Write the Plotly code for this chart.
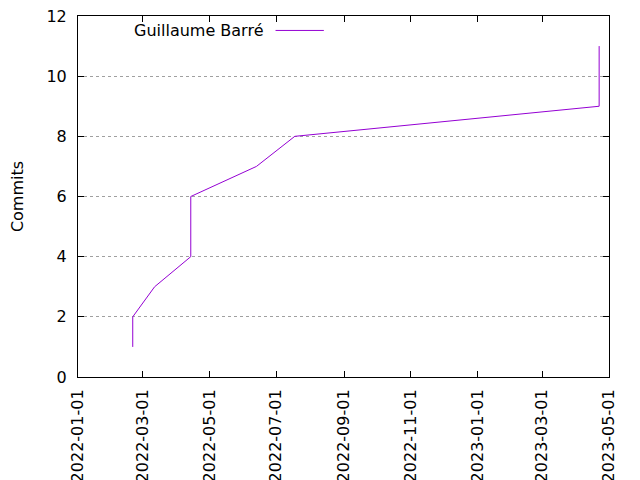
import plotly.graph_objects as go

author = "Guillaume Barré"
dates = ["2022-02-20", "2022-02-20", "2022-03-12", "2022-04-14", "2022-04-14",
         "2022-06-13", "2022-07-18", "2023-04-22", "2023-04-22"]
commits = [1, 2, 3, 4, 6, 7, 8, 9, 11]
tick_dates = ["2022-01-01", "2022-03-01", "2022-05-01", "2022-07-01", "2022-09-01",
              "2022-11-01", "2023-01-01", "2023-03-01", "2023-05-01"]
line_color = "#9400d3"
font = "DejaVu Sans, sans-serif"

fig = go.Figure()
fig.add_trace(go.Scatter(x=dates, y=commits, mode="lines",
                         line=dict(color=line_color, width=1), showlegend=False))

axis_common = dict(showline=True, linecolor="black", linewidth=1, mirror="ticks",
                   ticks="inside", ticklen=6, tickcolor="black", zeroline=False,
                   automargin=False, ticklabeloverflow="allow",
                   tickfont=dict(family=font, size=16, color="black"))

fig.update_xaxes(range=["2022-01-01", "2023-05-01"], tickvals=tick_dates,
                 ticktext=tick_dates, tickangle=-90, showgrid=False,
                 ticklabelstandoff=5, **axis_common)
fig.update_yaxes(range=[0, 12], dtick=2, showgrid=True, gridcolor="#a0a0a0",
                 griddash="dot", gridwidth=1, ticklabelstandoff=7,
                 title=dict(text="Commits", font=dict(family=font, size=16, color="black"),
                            standoff=20),
                 **axis_common)

# gnuplot-style key: text then line sample
fig.add_annotation(xref="paper", yref="paper", x=0.352, y=0.96, text=author,
                   showarrow=False, xanchor="right", yanchor="middle",
                   font=dict(family=font, size=16, color="black"))
fig.add_shape(type="line", xref="paper", yref="paper", x0=0.372, x1=0.463,
              y0=0.96, y1=0.96, line=dict(color=line_color, width=1))

# page has an 8px body margin, so the figure is 8px smaller and margins shifted
fig.update_layout(width=632, height=472, margin=dict(l=70, r=31, t=8, b=103),
                  plot_bgcolor="white", paper_bgcolor="white",
                  font=dict(family=font, size=16, color="black"))
fig.write_html("out.html")
